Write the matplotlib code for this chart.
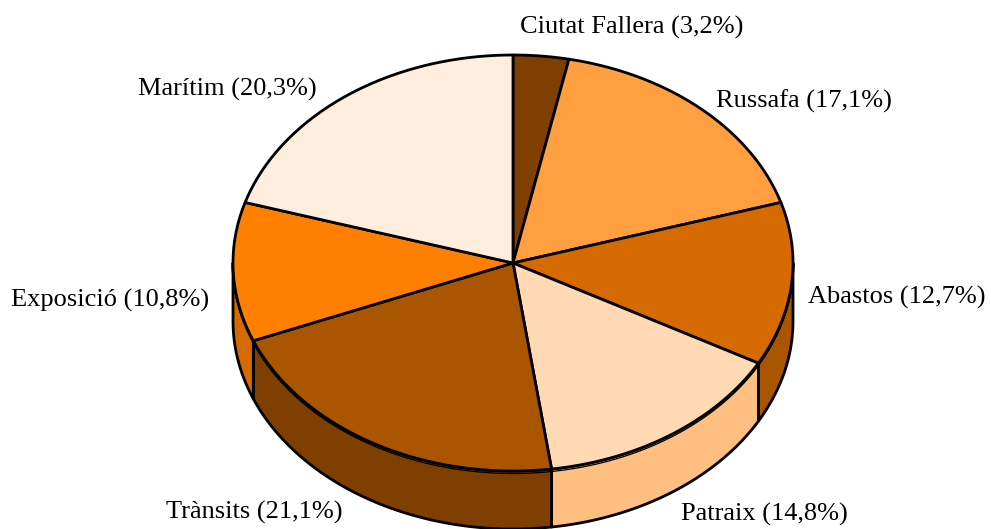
import numpy as np
import matplotlib
matplotlib.use("Agg")
import matplotlib.pyplot as plt
from matplotlib.patches import Polygon

# Data
categories = ["Ciutat Fallera", "Russafa", "Abastos", "Patraix", "Trànsits", "Exposició", "Marítim"]
values = [3.2, 17.1, 12.7, 14.8, 21.1, 10.8, 20.3]
top_colors = ["#7F3F00", "#FF9F40", "#D46A00", "#FFD9B3", "#AA5500", "#FF8000", "#FFEEDD"]
side_colors = ["#5F2F00", "#D47F30", "#AA5500", "#FFBF80", "#7F3F00", "#D46A00", "#D4C0B0"]

# Layout (pixels)
W, H = 991, 529
cx, cy = 513, 263
rx, ry = 280, 208
depth = 58
label_pos = [(632, 27), (804, 101), (897, 297), (764, 514), (254, 512), (110, 300), (227, 89)]

fig = plt.figure(figsize=(W / 100, H / 100), dpi=100)
ax = fig.add_axes([0, 0, 1, 1])
ax.set_xlim(0, W)
ax.set_ylim(H, 0)
ax.axis("off")


def pt(theta_deg, dy=0.0):
    t = np.radians(theta_deg)
    return cx + rx * np.sin(t), cy - ry * np.cos(t) + dy


total = float(sum(values))
bounds = np.concatenate([[0], np.cumsum(values)]) / total * 360.0

# Sides (front half: theta between 90 and 270)
for i in range(len(values)):
    a, b = bounds[i], bounds[i + 1]
    a2, b2 = max(a, 90), min(b, 270)
    if b2 <= a2:
        continue
    th = np.linspace(a2, b2, 80)
    xs, ys = pt(th)
    top = np.column_stack([xs, ys])
    bot = np.column_stack([xs, ys + depth])[::-1]
    poly = Polygon(np.vstack([top, bot]), closed=True, facecolor=side_colors[i],
                   edgecolor="black", linewidth=2.0, joinstyle="round", zorder=1)
    ax.add_patch(poly)

# Tops
for i in range(len(values)):
    a, b = bounds[i], bounds[i + 1]
    th = np.linspace(a, b, max(int((b - a) * 2), 10))
    xs, ys = pt(th)
    verts = np.vstack([[cx, cy], np.column_stack([xs, ys])])
    poly = Polygon(verts, closed=True, facecolor=top_colors[i], edgecolor="black",
                   linewidth=2.0, joinstyle="round", zorder=2)
    ax.add_patch(poly)

# front rim double line
th = np.linspace(90, 270, 300)
xs, ys = pt(th)
ax.plot(xs, ys + 2.5, color="black", lw=0.9, zorder=1.5)

for i, name in enumerate(categories):
    txt = f"{name} ({values[i]:.1f}%)".replace(".", ",")
    x, y = label_pos[i]
    ax.text(x, y, txt, ha="center", va="center", fontsize=19,
            family="Liberation Serif", color="black", zorder=3)

fig.savefig("out.png", dpi=100)
